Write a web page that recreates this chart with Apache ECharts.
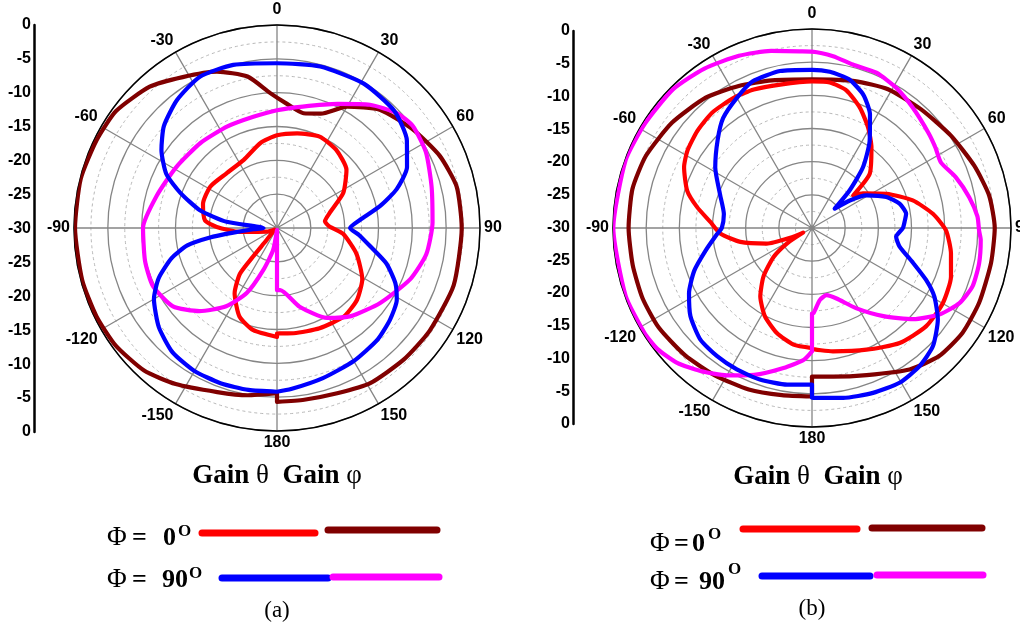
<!DOCTYPE html>
<html>
<head>
<meta charset="utf-8">
<script src="https://cdn.jsdelivr.net/npm/echarts@6/dist/echarts.min.js"></script>
<style>
  html, body { margin: 0; padding: 0; background: #fff; }
  #chart { width: 1020px; height: 627px; }
</style>
</head>
<body>
<div id="chart"></div>
<script>
// Radiation patterns: [angle in degrees (clockwise from 0 at top), gain in dB]

// ---- Panel (a) ----
const gainThetaPhi0A = [
  [-180, -13.9], [-167, -14.5], [-157, -15.8], [-147, -18.5], [-141, -21.3], [-140, -24.5],
  [-139, -27.7], [-125, -29.6], [-110, -28.4], [-96, -24.5], [-89, -21.1], [-84, -19.3],
  [-72, -18.5], [-58, -18.4], [-43, -19.0], [-26, -18.8], [-11, -17.2], [0, -16.3],
  [12, -15.7], [25, -15.1], [37, -15.5], [50, -16.6], [62, -18.9], [74, -21.9],
  [82, -22.85], [88, -22.3], [95, -20.2], [108, -17.65], [121, -15.3], [132, -14.1],
  [143, -13.6], [157, -13.9], [171, -14.25], [180, -14.4]
];
const gainPhiPhi0A = [
  [-180, -5.6], [-170, -4.9], [-160, -4.2], [-147, -2.5], [-137, -1.2], [-126, -0.5],
  [-116, -0.3], [-105, -0.2], [-90, -0.15], [-76, -0.1], [-64, -0.35], [-54, -0.6],
  [-42, -1.9], [-32, -3.7], [-21, -5.25], [-11, -7.2], [-3, -10.0], [4, -11.5],
  [13, -12.6], [21, -11.9], [30, -9.3], [41, -6.85], [54, -5.2], [66, -3.7],
  [77, -2.75], [90, -2.7], [108, -2.55], [124, -2.8], [136, -3.0], [149, -3.25],
  [160, -4.0], [171, -4.3], [180, -4.3]
];
const gainThetaPhi90A = [
  [-180, -5.8], [-170, -5.7], [-160, -5.6], [-150, -5.6], [-140, -6.0], [-130, -7.2],
  [-120, -9.0], [-113, -11.0], [-106, -13.8], [-101, -16.5], [-98, -20.0], [-96, -23.5],
  [-93, -26.5], [-90, -28.0], [-83, -22.5], [-77, -18.3], [-70, -14.8], [-64, -11.8],
  [-56, -9.4], [-48, -7.5], [-38, -6.0], [-27, -4.9], [-15, -5.05], [0, -5.65],
  [15, -5.3], [31, -5.1], [45, -5.5], [56, -6.85], [65, -8.8], [72, -11.4],
  [78, -14.45], [84.5, -17.7], [90, -19.2], [95, -17.8], [101, -16.0], [108, -13.0],
  [115, -10.7], [121, -9.35], [129, -8.5], [138, -7.8], [150, -7.3], [163, -6.8],
  [175, -6.1], [180, -5.8]
];
const gainPhiPhi90A = [
  [-180, -29.7], [-170, -26.7], [-162, -23.5], [-155, -19.4], [-147, -16.2], [-137, -13.2],
  [-127, -10.75], [-115, -9.75], [-104, -9.9], [-90, -10.2], [-75, -11.6], [-59, -12.6],
  [-42, -13.1], [-26, -13.3], [-12, -13.2], [0, -12.6], [12, -11.65], [26, -9.6],
  [37, -7.2], [46, -5.5], [53, -4.9], [63, -5.3], [75, -6.35], [88, -7.0],
  [100, -7.6], [111, -8.9], [126, -11.15], [140, -13.0], [151, -14.8], [164, -17.9],
  [177, -20.8], [180, -20.8]
];

// ---- Panel (b) ----
const gainThetaPhi0B = [
  [-180, -11.9], [-171, -12.2], [-161.5, -13.3], [-152, -14.9], [-143, -17.05], [-135, -19.65],
  [-127, -22.75], [-121.7, -25.55], [-117.5, -28.5], [-114, -26.4], [-109, -22.8], [-101, -19.0],
  [-93.5, -16.15], [-86.6, -14.65], [-79.7, -12.4], [-73.3, -10.35], [-64.6, -8.65], [-58.2, -7.9],
  [-49.7, -7.35], [-40.9, -7.0], [-31, -7.1], [-22.8, -7.35], [-12.5, -7.85], [0, -7.9],
  [7, -7.9], [14, -8.6], [21.6, -10.45], [29.2, -12.65], [36.4, -14.9], [46.9, -18.1],
  [51.7, -22.1], [55.7, -20.7], [65.3, -17.65], [74.7, -14.25], [83.3, -11.65], [91, -9.8],
  [100.4, -8.7], [109.3, -7.8], [120, -7.25], [130.8, -7.3], [142.7, -8.2], [155.9, -9.9],
  [170.4, -11.15], [180, -11.8]
];
const gainPhiPhi0B = [
  [-180, -4.6], [-169.8, -4.4], [-158.6, -3.85], [-146.6, -3.4], [-135, -2.9], [-123, -2.45],
  [-112.5, -2.35], [-101.7, -2.4], [-90, -2.35], [-77.7, -2.3], [-66.5, -2.7], [-53, -3.6],
  [-39.2, -4.65], [-27.3, -5.9], [-15.2, -6.95], [0, -7.6], [16.2, -6.95], [28.7, -6.15],
  [42.6, -5.7], [56.4, -4.85], [69, -3.8], [79.6, -2.85], [90, -2.45], [101.1, -2.5],
  [114.1, -2.4], [124.8, -2.35], [135.2, -2.8], [145.4, -4.1], [159.6, -6.35], [171.8, -7.35],
  [180, -7.6]
];
const gainThetaPhi90B = [
  [-180, -6.4], [-171, -6.1], [-161, -5.85], [-152, -5.85], [-143.5, -5.95], [-135, -6.2],
  [-126, -7.35], [-118, -9.0], [-110, -11.1], [-102, -13.6], [-93.5, -15.7], [-90, -16.4],
  [-81, -16.55], [-70, -15.25], [-58, -12.8], [-47, -10.55], [-39, -8.7], [-30, -7.35],
  [-22, -6.15], [-11.5, -5.85], [0, -6.15], [6.5, -6.3], [14, -6.9], [21, -8.45],
  [27, -10.75], [33.5, -14.25], [40, -18.05], [45, -22.0], [49.5, -25.5], [54, -22.95],
  [59, -20.45], [67.4, -17.85], [74.5, -16.3], [81.4, -15.65], [86, -16.0], [90, -16.3],
  [96, -17.25], [102, -16.5], [109, -13.9], [114.5, -11.1], [119.3, -8.85], [126, -6.55],
  [134.4, -4.5], [142.2, -3.6], [150.5, -3.2], [159.7, -3.5], [169.6, -3.95], [180, -4.4]
];
const gainPhiPhi90B = [
  [-180, -11.4], [-176.5, -10.1], [-168.5, -8.45], [-158.5, -6.2], [-150, -4.35], [-142, -2.65],
  [-135, -1.25], [-128, -0.4], [-122, -0.2], [-110, -0.1], [-90, -0.05], [-70, -0.1],
  [-58, -0.3], [-45, -0.4], [-34, -1.0], [-23, -1.8], [-13, -2.6], [-4, -3.3],
  [0, -3.4], [7, -3.9], [14, -4.6], [22.5, -4.65], [31, -5.35], [40, -6.35],
  [51, -7.35], [57, -7.8], [63, -8.2], [70.6, -7.0], [78.9, -5.85], [86, -5.0],
  [91, -4.8], [94, -4.5], [102, -4.25], [110, -4.25], [117, -5.05], [124, -6.75],
  [132, -9.45], [141, -12.9], [151, -16.15], [160.8, -18.75], [167.7, -19.65], [173.7, -19.1],
  [179, -17.15], [180, -17.1]
];

// Axis ranges and tick spacing
const gainRange = [-30, 0];
const gainStep = 5;
const angleRange = [-180, 180];
const angleStep = 30;

// Caption texts
const headingWords = ['Gain', 'θ', 'Gain', 'φ'];
const legendSymbol = 'Φ';
const legendAngles = ['0', '90'];
const degreeMark = 'O';
const panelTags = ['(a)', '(b)'];

const COLORS = { thetaPhi0: '#ff0000', phiPhi0: '#800000', thetaPhi90: '#0000ff', phiPhi90: '#ff00ff' };
const SANS = 'Arial, "Liberation Sans", sans-serif';
const SERIF = '"Times New Roman", "Liberation Serif", serif';

// Panel geometry
const panels = [
  { cx: 277, cy: 228, r: 203, scaleX: 34, scaleTop: 25, scaleH: 407 },
  { cx: 812, cy: 228, r: 199, scaleX: 573, scaleTop: 31, scaleH: 393 }
];

// Close the pattern at the 180 direction (jump back to the -180 value)
function closed(arr) {
  return arr.concat([[180, arr[0][1]]]).map(([a, g]) => [g, a]);
}

const chart = echarts.init(document.getElementById('chart'), null, { renderer: 'canvas' });

const polar = panels.map(p => ({ center: [p.cx, p.cy], radius: p.r }));

const angleAxis = panels.map((p, i) => ({
  polarIndex: i,
  type: 'value',
  min: angleRange[0],
  max: angleRange[1],
  interval: angleStep,
  startAngle: 270,
  clockwise: true,
  z: 3,
  axisLine: { show: true, lineStyle: { color: '#000', width: 1.5 } },
  axisTick: { show: false },
  splitLine: { show: true, lineStyle: { color: '#858585', width: 1.3 } },
  axisLabel: {
    show: true,
    margin: 4,
    color: '#000',
    fontFamily: SANS,
    fontWeight: 'bold',
    fontSize: 16,
    formatter: v => (v === -180 || v === 180) ? '180' : (v === 0 ? '{top|0}' : String(v)),
    rich: { top: { fontFamily: SANS, fontWeight: 'bold', fontSize: 16, color: '#000', padding: [0, 0, 3, 0] } }
  }
}));

const radiusAxis = panels.map((p, i) => ({
  polarIndex: i,
  type: 'value',
  min: gainRange[0],
  max: gainRange[1],
  interval: gainStep,
  axisLine: { show: false },
  axisTick: { show: false },
  axisLabel: { show: false },
  splitLine: { show: true, lineStyle: { color: '#858585', width: 1.3 } },
  minorTick: { show: false, splitNumber: 2 },
  minorSplitLine: { show: true, lineStyle: { color: '#b8b8b8', width: 1, type: [3, 3] } }
}));

const grid = panels.map(p => ({ left: p.scaleX, top: p.scaleTop, height: p.scaleH, width: 10 }));
const xAxis = panels.map((p, i) => ({ gridIndex: i, type: 'value', show: false }));
const yAxis = panels.map((p, i) => ({
  gridIndex: i,
  type: 'value',
  min: gainRange[0],
  max: -gainRange[0],
  interval: gainStep,
  axisLine: { show: true, lineStyle: { color: '#000', width: 2.5 } },
  axisTick: { show: false },
  splitLine: { show: false },
  axisLabel: {
    margin: 3,
    color: '#000',
    fontFamily: SANS,
    fontWeight: 'bold',
    fontSize: 16,
    formatter: v => String(Math.abs(v) + gainRange[0])
  }
}));

function patternSeries(data, color, polarIndex) {
  return {
    type: 'line',
    coordinateSystem: 'polar',
    polarIndex,
    data: closed(data),
    symbol: 'none',
    smooth: 0.2,
    silent: true,
    animation: false,
    lineStyle: { color, width: 4.2, cap: 'round', join: 'round' }
  };
}

const series = [
  patternSeries(gainPhiPhi0A, COLORS.phiPhi0, 0),
  patternSeries(gainThetaPhi0A, COLORS.thetaPhi0, 0),
  patternSeries(gainPhiPhi90A, COLORS.phiPhi90, 0),
  patternSeries(gainThetaPhi90A, COLORS.thetaPhi90, 0),
  patternSeries(gainPhiPhi0B, COLORS.phiPhi0, 1),
  patternSeries(gainThetaPhi0B, COLORS.thetaPhi0, 1),
  patternSeries(gainPhiPhi90B, COLORS.phiPhi90, 1),
  patternSeries(gainThetaPhi90B, COLORS.thetaPhi90, 1)
];

// Caption block under each pattern: heading, two legend rows, panel tag
const captionLayout = [
  {
    head: { x: 277, y: 476 },
    rows: [
      { y: 538, phiX: 107, eqX: 132, numX: 163, supX: 178, supY: 532,
        swatches: [[202, 533, 315, 533, COLORS.thetaPhi0], [328, 530, 437, 530, COLORS.phiPhi0]] },
      { y: 580, phiX: 107, eqX: 132, numX: 162, supX: 189, supY: 574,
        swatches: [[222, 578, 328, 578, COLORS.thetaPhi90], [333, 577, 439, 577, COLORS.phiPhi90]] }
    ],
    tag: { x: 277, y: 611 }
  },
  {
    head: { x: 818, y: 477 },
    rows: [
      { y: 544, phiX: 650, eqX: 674, numX: 692, supX: 708, supY: 535,
        swatches: [[743, 529, 857, 529, COLORS.thetaPhi0], [872, 528, 982, 528, COLORS.phiPhi0]] },
      { y: 582, phiX: 650, eqX: 674, numX: 699, supX: 728, supY: 570,
        swatches: [[762, 576, 870, 576, COLORS.thetaPhi90], [877, 575, 983, 575, COLORS.phiPhi90]] }
    ],
    tag: { x: 812, y: 609 }
  }
];

function textEl(x, y, text, font, align) {
  return {
    type: 'text', x, y, silent: true,
    style: { text, font, fill: '#000', align: align || 'left', verticalAlign: 'middle' }
  };
}

const graphic = [];
captionLayout.forEach((c, i) => {
  graphic.push({
    type: 'text', x: c.head.x, y: c.head.y, silent: true,
    style: {
      text: '{g|' + headingWords[0] + '} ' + headingWords[1] + '  {g|' + headingWords[2] + '} ' + headingWords[3],
      font: '27px ' + SERIF, fill: '#000', align: 'center', verticalAlign: 'middle',
      rich: { g: { font: 'bold 27px ' + SERIF, fill: '#000' } }
    }
  });
  c.rows.forEach((row, k) => {
    graphic.push(textEl(row.phiX, row.y, legendSymbol, '27px ' + SERIF));
    graphic.push(textEl(row.eqX, row.y, '=', 'bold 26px ' + SERIF));
    graphic.push(textEl(row.numX, row.y, legendAngles[k], 'bold 26px ' + SERIF));
    graphic.push(textEl(row.supX, row.supY, degreeMark, 'bold 17px ' + SERIF));
    row.swatches.forEach(s => {
      graphic.push({
        type: 'line', silent: true,
        shape: { x1: s[0], y1: s[1], x2: s[2], y2: s[3] },
        style: { stroke: s[4], lineWidth: 7, lineCap: 'round' }
      });
    });
  });
  graphic.push(textEl(c.tag.x, c.tag.y, panelTags[i], '23px ' + SERIF, 'center'));
});

chart.setOption({
  backgroundColor: '#fff',
  animation: false,
  polar,
  angleAxis,
  radiusAxis,
  grid,
  xAxis,
  yAxis,
  series,
  graphic
});
</script>
</body>
</html>
